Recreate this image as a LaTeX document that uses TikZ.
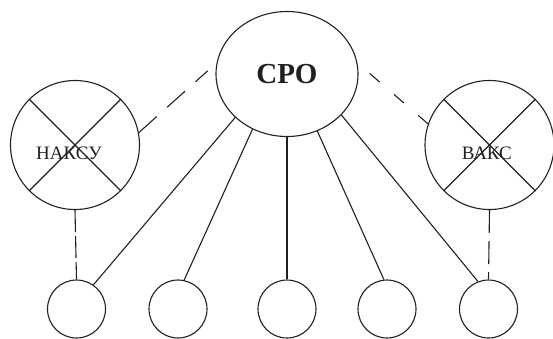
\documentclass[tikz,border=0pt]{standalone}
\usepackage{fontspec}
\setmainfont{Liberation Serif}
\usepackage{tikz}
\usetikzlibrary{shapes}
\definecolor{ink}{HTML}{231F20}
\tikzset{
  link/.style     = {draw=ink, line width=1.1pt},
  ring/.style     = {circle, draw=ink, line width=1.1pt, inner sep=0pt, minimum size=#1},
  hub/.style      = {ellipse, draw=ink, line width=1.1pt, inner sep=0pt,
                     minimum width=142pt, minimum height=125pt,
                     font=\fontsize{29}{30}\selectfont\bfseries, text=ink},
  ringtext/.style = {font=\fontsize{19}{20}\selectfont, text=ink, inner sep=0pt},
  longdash/.style = {link, dash pattern=on 24pt off 14pt},
  shortdash/.style= {link, dash pattern=on 13pt off 19pt},
}
\newcommand{\crossring}[4]{
  \node[ring=129pt] (#1) at (#2) {};
  \draw[link] (#1.135) -- (#1.-45);
  \draw[link] (#1.45) -- (#1.-135);
  \node[ringtext] (#1txt) at ([shift={#3}]#1.center) {#4};
}

\begin{document}
\begin{tikzpicture}[x=1pt, y=-1pt]
  \useasboundingbox (0,0) rectangle (553,338);
  \node[hub] (cro) at (287,74) {СРО};
  \crossring{naksu}{75,145}{(-6,8.7)}{НАКСУ}
  \crossring{vaks}{489.5,145}{(-2.7,8.7)}{ВАКС}
  \node[ring=58pt] (s1) at (76.5,309) {};
  \node[ring=58pt] (s2) at (178,309) {};
  \node[ring=58pt] (s3) at (287,309) {};
  \node[ring=58pt] (s4) at (387,309) {};
  \node[ring=58pt] (s5) at (488.5,309) {};
  \draw[link] (cro.220) -- (s1.55);
  \draw[link] (cro.238) -- (s2.78);
  \draw[link] (cro.south) -- (s3.north);
  \draw[link] (cro.298) -- (s4.96);
  \draw[link] (cro.-37.5) -- (s5.111);
  \draw[longdash, shorten >=12pt] (naksu.11) -- (cro.171);
  \draw[shortdash] (vaks.161) -- (cro.9);
  \draw[link, dash pattern=on 22pt off 4pt] (naksu.south) -- (s1.north);
  \draw[link, dash pattern=on 23pt off 8pt] (vaks.south) -- (s5.north);
\end{tikzpicture}
\end{document}
